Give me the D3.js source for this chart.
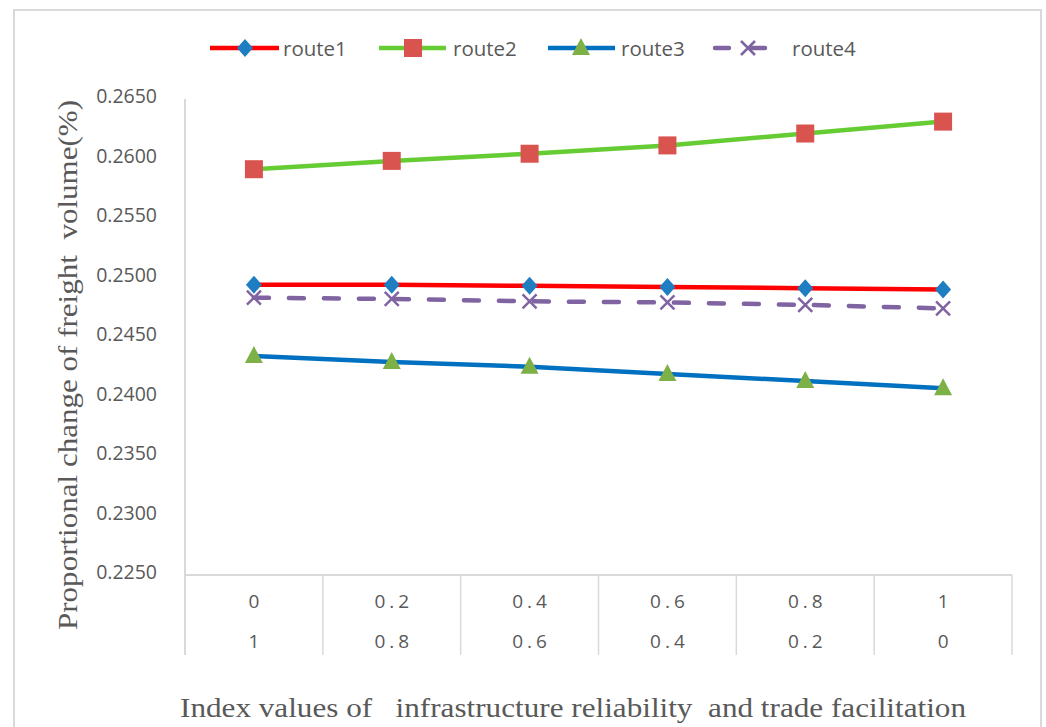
<!DOCTYPE html>
<html>
<head>
<meta charset="utf-8">
<script src="https://cdn.jsdelivr.net/npm/d3@7"></script>
<style>
  html, body { margin: 0; padding: 0; background: #ffffff; }
  svg { display: block; }
</style>
</head>
<body>
<svg id="chart" width="1046" height="727"></svg>
<script>
// Category labels (two rows under each category)
const rowTop = ["0", "0.2", "0.4", "0.6", "0.8", "1"];
const rowBottom = ["1", "0.8", "0.6", "0.4", "0.2", "0"];

// Series values
const route1 = [0.2494, 0.2494, 0.2493, 0.2492, 0.2491, 0.2490];
const route2 = [0.2591, 0.2598, 0.2604, 0.2611, 0.2621, 0.2631];
const route3 = [0.2434, 0.2429, 0.2425, 0.2419, 0.2413, 0.2407];
const route4 = [0.2483, 0.2482, 0.2480, 0.2479, 0.2477, 0.2474];

const seriesNames = ["route1", "route2", "route3", "route4"];

// Y tick values
const yTicks = [0.2250, 0.2300, 0.2350, 0.2400, 0.2450, 0.2500, 0.2550, 0.2600, 0.2650];

const xTitle = "Index values of \u00a0 infrastructure reliability \u00a0and trade facilitation";
const yTitle = "Proportional change of freight \u00a0volume(%)";

const svg = d3.select("#chart");
const plot = { left: 185, right: 1012, top: 99, bottom: 575 };
const tableBottom = 655;
const gridColor = "#d9d9d9";
const textColor = "#595959";
const sansFont = "'Liberation Sans Narrow', 'Open Sans', 'Liberation Sans', sans-serif";
const serifFont = "'Liberation Serif', 'DejaVu Serif', serif";

// Outer frame
svg.append("rect")
  .attr("x", 14).attr("y", 10)
  .attr("width", 1027).attr("height", 740)
  .attr("fill", "#ffffff")
  .attr("stroke", gridColor).attr("stroke-width", 2);

const x = d3.scaleBand()
  .domain(d3.range(rowTop.length))
  .range([plot.left, plot.right])
  .paddingInner(0).paddingOuter(0);
const cx = i => x(i) + x.bandwidth() / 2;

const y = d3.scaleLinear()
  .domain([0.2250, 0.2650])
  .range([plot.bottom, plot.top]);

// Y axis labels
const yAxis = d3.axisLeft(y)
  .tickValues(yTicks)
  .tickFormat(d3.format(".4f"))
  .tickSize(0)
  .tickPadding(28);
const gy = svg.append("g")
  .attr("transform", `translate(${plot.left},0)`)
  .call(yAxis);
gy.select(".domain").remove();
gy.selectAll("text")
  .attr("fill", textColor)
  .attr("font-family", sansFont)
  .attr("font-size", 19.5)
  .attr("dy", "0.2em");

// Axis lines and category table
svg.append("line")
  .attr("x1", plot.left).attr("x2", plot.left)
  .attr("y1", plot.top).attr("y2", tableBottom)
  .attr("stroke", gridColor).attr("stroke-width", 2);
svg.append("line")
  .attr("x1", plot.left).attr("x2", plot.right)
  .attr("y1", plot.bottom).attr("y2", plot.bottom)
  .attr("stroke", gridColor).attr("stroke-width", 2);
svg.append("g").selectAll("line")
  .data(d3.range(rowTop.length))
  .join("line")
  .attr("x1", i => x(i) + x.bandwidth()).attr("x2", i => x(i) + x.bandwidth())
  .attr("y1", plot.bottom).attr("y2", tableBottom)
  .attr("stroke", gridColor).attr("stroke-width", 1.5);

const catText = (labels, yy) => svg.append("g").selectAll("text")
  .data(labels)
  .join("text")
  .attr("x", (d, i) => cx(i))
  .attr("y", yy)
  .attr("text-anchor", "middle")
  .attr("dominant-baseline", "central")
  .attr("fill", textColor)
  .attr("font-family", sansFont)
  .attr("font-size", 19)
  .attr("letter-spacing", "4px")
  .attr("dx", "2px")
  .text(d => d);
catText(rowTop, 601);
catText(rowBottom, 641);

// Series styles
const styles = {
  route1: { line: "#ff0000", marker: "#1f7dc2", shape: "diamond", dash: null },
  route2: { line: "#66cc33", marker: "#d9534f", shape: "square", dash: null },
  route3: { line: "#0070c0", marker: "#7db046", shape: "triangle", dash: null },
  route4: { line: "#8064a2", marker: "#8064a2", shape: "cross", dash: "15,20" }
};
const data = { route1, route2, route3, route4 };

function drawMarker(g, shape, color, px, py) {
  if (shape === "diamond") {
    g.append("path")
      .attr("d", `M${px},${py - 9}L${px + 8},${py}L${px},${py + 9}L${px - 8},${py}Z`)
      .attr("fill", color);
  } else if (shape === "square") {
    g.append("rect")
      .attr("x", px - 9).attr("y", py - 9)
      .attr("width", 18).attr("height", 18)
      .attr("fill", color);
  } else if (shape === "triangle") {
    g.append("path")
      .attr("d", `M${px},${py - 10}L${px + 9},${py + 7}L${px - 9},${py + 7}Z`)
      .attr("fill", color);
  } else {
    g.append("path")
      .attr("d", `M${px - 7},${py - 7}L${px + 7},${py + 7}M${px + 7},${py - 7}L${px - 7},${py + 7}`)
      .attr("stroke", color).attr("stroke-width", 2.5).attr("fill", "none");
  }
}

const line = d3.line()
  .x((d, i) => cx(i))
  .y(d => y(d));

// Lines
seriesNames.forEach(name => {
  const s = styles[name];
  svg.append("path")
    .datum(data[name])
    .attr("d", line)
    .attr("fill", "none")
    .attr("stroke", s.line)
    .attr("stroke-width", 4.5)
    .attr("stroke-linecap", s.dash ? "round" : "butt")
    .attr("stroke-dasharray", s.dash);
});
// Markers
seriesNames.forEach(name => {
  const s = styles[name];
  const g = svg.append("g");
  data[name].forEach((v, i) => drawMarker(g, s.shape, s.marker, cx(i), y(v)));
});

// Legend
const legendItems = [
  { name: "route1", x0: 210, x1: 279, mx: 245, tx: 283 },
  { name: "route2", x0: 379, x1: 446, mx: 413, tx: 453 },
  { name: "route3", x0: 548, x1: 615, mx: 581, tx: 621 },
  { name: "route4", x0: 715, x1: 768, mx: 748, tx: 792 }
];
const ly = 48;
legendItems.forEach(it => {
  const s = styles[it.name];
  const g = svg.append("g");
  g.append("line")
    .attr("x1", it.x0).attr("x2", it.x1)
    .attr("y1", ly).attr("y2", ly)
    .attr("stroke", s.line).attr("stroke-width", 4.5)
    .attr("stroke-linecap", s.dash ? "round" : "butt")
    .attr("stroke-dasharray", s.dash ? "14,22" : null);
  drawMarker(g, s.shape, s.marker, it.mx, ly);
  g.append("text")
    .attr("x", it.tx).attr("y", ly)
    .attr("dominant-baseline", "central")
    .attr("fill", textColor)
    .attr("font-family", sansFont)
    .attr("font-size", 20.5)
    .text(it.name);
});

// Axis titles
svg.append("text")
  .attr("x", 573).attr("y", 708)
  .attr("text-anchor", "middle")
  .attr("dominant-baseline", "central")
  .attr("fill", textColor)
  .attr("font-family", serifFont)
  .attr("font-size", 27)
  .attr("textLength", 786)
  .attr("lengthAdjust", "spacingAndGlyphs")
  .text(xTitle);

svg.append("text")
  .attr("transform", "translate(68,365) rotate(-90)")
  .attr("text-anchor", "middle")
  .attr("dominant-baseline", "central")
  .attr("fill", textColor)
  .attr("font-family", serifFont)
  .attr("font-size", 27)
  .attr("textLength", 530)
  .attr("lengthAdjust", "spacingAndGlyphs")
  .text(yTitle);
</script>
</body>
</html>
